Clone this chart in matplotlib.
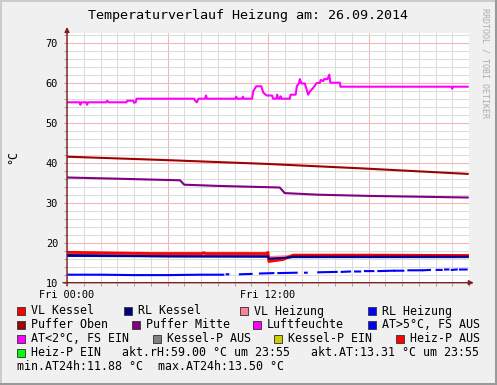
"""Temperaturverlauf Heizung -- rrdtool style day graph redrawn with matplotlib."""

import numpy as np
import matplotlib
matplotlib.use("Agg")
import matplotlib.pyplot as plt
from matplotlib.patches import Rectangle

# ── data (hours since Fri 00:00) ──
rh_hours = [0, 0.75, 0.8, 0.85, 1.15, 1.2, 1.25, 2.35, 2.4, 2.5, 3.55, 3.6, 3.95, 4.0,
            4.1, 4.15, 4.3, 7.6, 7.65, 7.75, 7.85, 8.25, 8.3, 8.35, 10.05, 10.1, 10.15,
            10.45, 10.5, 10.55, 11.05, 11.12, 11.3, 11.6, 11.72, 11.92, 12.25, 12.3, 12.5,
            12.55, 12.6, 12.7, 12.75, 12.8, 13.3, 13.35, 13.65, 13.72, 13.85, 13.9, 14.0,
            14.2, 14.4, 14.5, 14.7, 14.9, 15.1, 15.15, 15.3, 15.35, 15.55, 15.66, 15.72,
            16.3, 16.32, 22.95, 23.0, 23.05, 23.92]
rh_values = [55.1, 55.1, 54.5, 55.1, 55.1, 54.5, 55.1, 55.1, 55.5, 55.1, 55.1, 55.5, 55.5, 55.0,
             55.1, 56.0, 56.0, 56.0, 55.5, 55.1, 56.0, 56.0, 56.8, 56.0, 56.0, 56.5, 56.0,
             56.0, 56.5, 56.0, 56.0, 57.9, 59.1, 59.1, 57.5, 56.8, 56.8, 56.0, 56.0,
             57.0, 56.0, 56.0, 56.6, 56.0, 56.0, 57.0, 57.0, 59.1, 59.9, 60.9, 59.8,
             59.8, 57.0, 57.8, 58.7, 59.9, 60.0, 60.7, 60.4, 60.9, 60.9, 62.0, 60.0,
             60.0, 59.0, 59.0, 58.5, 59.0, 59.0]

puffer_oben_hours = [0, 5.6, 11.9, 17.5, 23.92]
puffer_oben_values = [41.5, 40.7, 39.7, 38.6, 37.2]

puffer_mitte_hours = [0, 3, 6.75, 7.0, 9, 12.7, 13.0, 15, 18, 23.92]
puffer_mitte_values = [36.3, 36.0, 35.6, 34.5, 34.2, 33.8, 32.4, 32.0, 31.7, 31.3]

vl_kessel_hours = [0, 5, 8.05, 8.15, 8.3, 11.9, 12.0, 12.05, 12.9, 13.5, 18, 23.92]
vl_kessel_values = [17.6, 17.3, 17.3, 17.5, 17.3, 17.3, 17.6, 15.3, 15.8, 16.9, 16.9, 16.8]

vl_heizung_hours = [0, 12.0, 12.05, 13.0, 13.5, 23.92]
vl_heizung_values = [17.2, 17.0, 16.4, 16.6, 16.8, 16.6]

rl_heizung_hours = [0, 12.0, 12.05, 13.0, 13.5, 23.92]
rl_heizung_values = [16.7, 16.5, 16.0, 16.2, 16.4, 16.4]

rl_kessel_hours = [0, 6, 12.0, 12.05, 13.0, 13.5, 23.92]
rl_kessel_values = [16.9, 16.6, 16.6, 16.0, 16.2, 16.5, 16.5]

# outdoor temperature, NaN = no data
at_hours = [0.08, 2, 4, 6, 8, 9.33, np.nan, 9.53, 9.63, np.nan, 10.32, 11.02, np.nan,
            11.52, 12.32, np.nan, 12.62, 13.71, np.nan, 14.21, 14.31, np.nan, 15.0, 16.1,
            np.nan, 16.4, 16.9, np.nan, 17.2, 17.5, np.nan, 17.79, 18.29, np.nan, 18.59,
            19.48, np.nan, 19.58, 20.08, np.nan, 20.38, 21.17, np.nan, 21.27, 21.67, np.nan,
            22.07, 22.37, np.nan, 22.57, 22.77, np.nan, 22.97, 23.27, np.nan, 23.46, 23.86]
at_values = [12.0, 12.0, 11.9, 11.9, 12.0, 12.0, np.nan, 12.1, 12.1, np.nan, 12.1, 12.2, np.nan,
             12.3, 12.4, np.nan, 12.4, 12.5, np.nan, 12.5, 12.5, np.nan, 12.6, 12.7,
             np.nan, 12.7, 12.8, np.nan, 12.8, 12.8, np.nan, 12.9, 12.9, np.nan, 12.9,
             13.0, np.nan, 13.0, 13.0, np.nan, 13.1, 13.1, np.nan, 13.1, 13.2, np.nan,
             13.2, 13.2, np.nan, 13.3, 13.3, np.nan, 13.2, 13.3, np.nan, 13.3, 13.3]

x_tick_labels = {0: "Fri 00:00", 12: "Fri 12:00"}

legend_rows = [
    ["VL Kessel", "RL Kessel", "VL Heizung", "RL Heizung"],
    ["Puffer Oben", "Puffer Mitte", "Luftfeuchte", "AT>5°C, FS AUS"],
    ["AT<2°C, FS EIN", "Kessel-P AUS", "Kessel-P EIN", "Heiz-P AUS"],
    ["Heiz-P EIN   akt.rH:59.00 °C um 23:55   akt.AT:13.31 °C um 23:55"],
]
legend_colors = [
    ["#FF0000", "#000080", "#FF8099", "#0000FF"],
    ["#A00000", "#800080", "#FF00FF", "#0000FF"],
    ["#FF00FF", "#808080", "#CCCC00", "#FF0000"],
    ["#00FF00"],
]
legend_text_x = [
    [30.7, 138, 254, 382],
    [30.7, 145.7, 267, 382],
    [30.7, 166.7, 288.3, 410],
    [30.7],
]
stats_texts = ["min.AT24h:11.88 °C", "max.AT24h:13.50 °C"]
stats_x = [16.7, 158.3]

# ── figure geometry in pixels ──
W, H = 497, 385
X0, X1 = 67, 469
Y_TOP, Y_BOT = 33, 282.7
MONO = "DejaVu Sans Mono"
AXIS_COL = "#7A2020"


def fx(px):
    return px / W


def fy(py):
    return 1 - py / H


fig = plt.figure(figsize=(W / 100, H / 100), dpi=100, facecolor="#F0F0F0")
plt.rcParams["font.family"] = MONO

# rrdtool shaded border
fig.add_artist(Rectangle((0, fy(2)), 1, fy(0) - fy(2), transform=fig.transFigure,
                         color="#CBCBCB", lw=0))
fig.add_artist(Rectangle((0, 0), fx(2), 1, transform=fig.transFigure, color="#CBCBCB", lw=0))
fig.add_artist(Rectangle((0, 0), 1, fy(H - 2), transform=fig.transFigure, color="#999999", lw=0))
fig.add_artist(Rectangle((fx(W - 2), 0), fx(2), 1, transform=fig.transFigure,
                         color="#999999", lw=0))

ax = fig.add_axes([fx(X0), fy(Y_BOT), fx(X1) - fx(X0), fy(Y_TOP) - fy(Y_BOT)])
ax.set_facecolor("white")
ax.set_xlim(0, 24)
ax.set_ylim(10, 10 + (Y_BOT - Y_TOP) / 4)

# ── grid ──
ax.set_xticks(range(0, 25, 6))
ax.set_xticks(range(0, 25), minor=True)
ax.set_xticklabels([x_tick_labels.get(h, "") for h in range(0, 25, 6)])
ax.set_yticks(range(10, 71, 10))
ax.set_yticks(range(10, 73, 2), minor=True)
ax.grid(which="minor", color="#DCDCDC", lw=0.75)
ax.grid(which="major", color="#F5B5B5", lw=0.75)
ax.set_axisbelow(True)
for s in ax.spines.values():
    s.set_visible(False)
ax.tick_params(which="both", direction="out", length=2.5, width=0.7,
               color="#A0A0A0", labelsize=7.4, pad=4)
ax.tick_params(axis="x", which="major", color="#E08080", pad=2.5)
ax.tick_params(axis="y", which="major", color="#E08080")

# ── series ──
lw = 1.5
ax.plot(rl_heizung_hours, rl_heizung_values, color="#0000FF", lw=lw)
ax.plot(vl_heizung_hours, vl_heizung_values, color="#FF8099", lw=lw)
ax.plot(vl_kessel_hours, vl_kessel_values, color="#FF0000", lw=2)
ax.plot(rl_kessel_hours, rl_kessel_values, color="#000080", lw=lw)
ax.plot(puffer_oben_hours, puffer_oben_values, color="#A00000", lw=lw)
ax.plot(puffer_mitte_hours, puffer_mitte_values, color="#800080", lw=lw)
ax.plot(rh_hours, rh_values, color="#FF00FF", lw=lw)
ax.plot(at_hours, at_values, color="#0000FF", lw=lw)

# ── axes with arrows ──
ax.annotate("", xy=(1.012, 0), xytext=(-0.01, 0), xycoords="axes fraction",
            arrowprops=dict(arrowstyle="-|>", color=AXIS_COL, lw=1, mutation_scale=7,
                            shrinkA=0, shrinkB=0), annotation_clip=False)
ax.annotate("", xy=(0, 1.024), xytext=(0, -0.012), xycoords="axes fraction",
            arrowprops=dict(arrowstyle="-|>", color=AXIS_COL, lw=1, mutation_scale=7,
                            shrinkA=0, shrinkB=0), annotation_clip=False)

# ── texts ──
fig.text(fx(248), fy(16), "Temperaturverlauf Heizung am: 26.09.2014", ha="center",
         va="center", fontsize=9.6, family=MONO)
fig.text(fx(13), fy(157), "°C", rotation=90, ha="center", va="center", fontsize=8.4,
         family=MONO)
fig.text(fx(485), fy(63), "RRDTOOL / TOBI OETIKER", rotation=-90, ha="center", va="center",
         fontsize=6, family=MONO, color="#ACACAC")

row_y = [311, 325, 339, 353]
for r, labels in enumerate(legend_rows):
    for label, col, tx in zip(labels, legend_colors[r], legend_text_x[r]):
        fig.add_artist(Rectangle((fx(tx - 14), fy(row_y[r] + 4)), fx(8), fy(0) - fy(8),
                                 transform=fig.transFigure, facecolor=col,
                                 edgecolor="#404040", lw=0.7))
        fig.text(fx(tx), fy(row_y[r]), label, ha="left", va="center", fontsize=8.4,
                 family=MONO)
for txt, tx in zip(stats_texts, stats_x):
    fig.text(fx(tx), fy(367), txt, ha="left", va="center", fontsize=8.4, family=MONO)

fig.savefig("out.png", dpi=100, facecolor=fig.get_facecolor())
